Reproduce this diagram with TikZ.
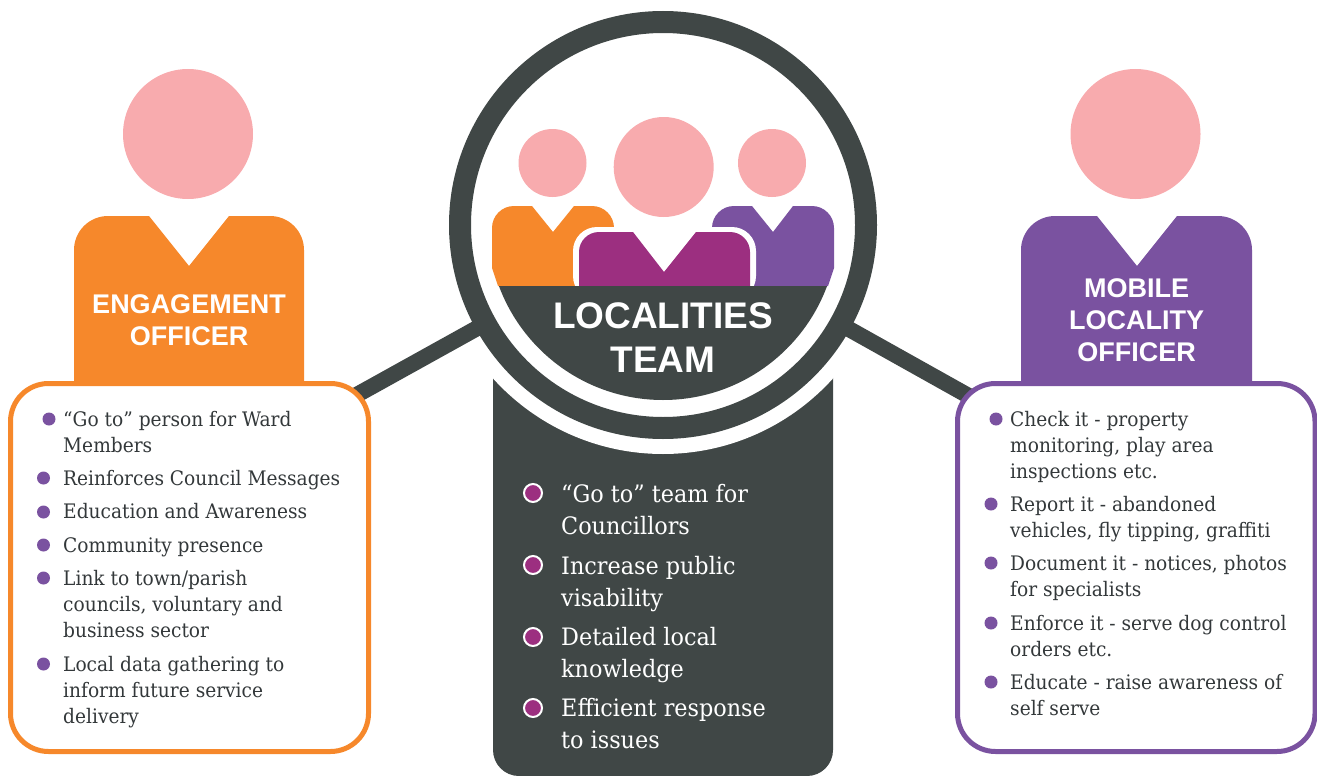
\documentclass[tikz,border=0pt]{standalone}
\usepackage{fontspec}
\setmainfont{Liberation Sans}
\newfontfamily\slab[FakeStretch=0.93]{DejaVu Serif}
\definecolor{cOrange}{HTML}{F6882B}
\definecolor{cPurple}{HTML}{7A52A0}
\definecolor{cMagenta}{HTML}{9C2F80}
\definecolor{cPink}{HTML}{F8ABAE}
\definecolor{cDark}{HTML}{404746}
\definecolor{cText}{HTML}{33383A}
\tikzset{
  head/.style={circle,fill=cPink,inner sep=0pt},
  handle/.style={draw=cDark,line width=16pt},
  title/.style={font=\bfseries\fontsize{27}{32}\selectfont,text=white,align=center,inner sep=0pt,anchor=base},
  bigtitle/.style={font=\bfseries\fontsize{37}{44}\selectfont,text=white,align=center,inner sep=0pt,anchor=base},
  item/.style={font=\slab\fontsize{20}{26}\selectfont,text=cText,align=left,inner sep=0pt,anchor=base west,yshift=0.6pt},
  citem/.style={font=\slab\fontsize{24}{32}\selectfont,text=white,align=left,inner sep=0pt,anchor=base west,yshift=0.6pt},
  dotp/.style={circle,fill=cPurple,inner sep=0pt,minimum size=13pt},
  dotm/.style={circle,fill=cMagenta,draw=white,line width=2pt,inner sep=0pt,minimum size=18pt},
  panel/.style={fill=white,line width=5pt,rounded corners=38pt},
}
\begin{document}
\begin{tikzpicture}[x=1pt,y=-1pt]
\useasboundingbox (0,0) rectangle (1317,776);
% lower dark panel
\fill[cDark,rounded corners=26pt] (493,300) -- (493,776) -- (833,776) -- (833,300) -- cycle;
\node[circle,fill=white,inner sep=0pt,minimum size=458pt] (halo) at (663,225) {};
% connectors
\coordinate (hl) at (300,426.4);
\coordinate (hr) at (1000,413.5);
\coordinate (rc) at (663,225);
\draw[handle] (hl) -- (rc);
\draw[handle] (hr) -- (rc);
% ring
\node[circle,draw=cDark,fill=white,line width=22pt,inner sep=0pt,minimum size=406pt] (ring) at (663,225) {};
% small people
\fill[cOrange] (498,286) -- (492,268) [rounded corners=22pt] -- (492,206) [sharp corners] -- (532,206) -- (553,232) -- (574,206) [rounded corners=22pt] -- (614,206) [sharp corners] -- (614,286) -- cycle;
\fill[cPurple] (828,286) -- (834,268) [rounded corners=22pt] -- (834,206) [sharp corners] -- (793,206) -- (773,232) -- (752,206) [rounded corners=22pt] -- (712,206) [sharp corners] -- (712,286) -- cycle;
\fill[white,rounded corners=24pt] (573,300) -- (573,227) -- (756,227) -- (756,300) -- cycle;
\fill[cMagenta] (579,286) [rounded corners=20pt] -- (579,232) [sharp corners] -- (633,232) -- (664,272) -- (696,232) [rounded corners=20pt] -- (750,232) [sharp corners] -- (750,286) -- cycle;
\node[head,minimum size=68pt] (h1) at (552.5,163) {};
\node[head,minimum size=100pt] (h2) at (663.7,167) {};
\node[head,minimum size=68pt] (h3) at (772,163) {};
% dark segment
\begin{scope}
\clip (663,225) circle (175pt);
\fill[cDark] (480,286) rectangle (850,410);
\end{scope}
\node[bigtitle] (tl1) at (663,328) {LOCALITIES};
\node[bigtitle] (tl2) at (663,372) {TEAM};
% left person
\node[head,minimum size=130pt] (hL) at (188,134) {};
\fill[cOrange] (74,390) [rounded corners=34pt] -- (74,216) [sharp corners] -- (149,216) -- (189,266) -- (229,216) [rounded corners=34pt] -- (304,216) [sharp corners] -- (304,390) -- cycle;
\node[title] (tL1) at (189,313) {ENGAGEMENT};
\node[title] (tL2) at (189,345) {OFFICER};
% right person
\node[head,minimum size=130pt] (hR) at (1135.5,134) {};
\fill[cPurple] (1021,390) [rounded corners=34pt] -- (1021,216) [sharp corners] -- (1097,216) -- (1137,266) -- (1177,216) [rounded corners=34pt] -- (1252,216) [sharp corners] -- (1252,390) -- cycle;
\node[title] (tR1) at (1136.5,297) {MOBILE};
\node[title] (tR2) at (1136.5,329) {LOCALITY};
\node[title] (tR3) at (1136.5,361) {OFFICER};
% panels
\draw[panel,draw=cOrange] (10.5,383.5) rectangle (368.5,751.5);
\draw[panel,draw=cPurple] (957.5,383.5) rectangle (1315,751.5);
% left list (node positions are the baseline of the last line)
\node[dotp] (a1) at (49,419) {};
\node[item] (ta1) at (63,453) {“Go to” person for Ward\\Members};
\node[dotp] (a2) at (43.5,478) {};
\node[item] (ta2) at (63,486) {Reinforces Council Messages};
\node[dotp] (a3) at (43.5,512) {};
\node[item] (ta3) at (63,519) {Education and Awareness};
\node[dotp] (a4) at (43.5,545) {};
\node[item] (ta4) at (63,553) {Community presence};
\node[dotp] (a5) at (43.5,578) {};
\node[item] (ta5) at (63,638) {Link to town/parish\\councils, voluntary and\\business sector};
\node[dotp] (a6) at (43.5,664) {};
\node[item] (ta6) at (63,724) {Local data gathering to\\inform future service\\delivery};
% centre list
\node[dotm] (b1) at (533,493) {};
\node[citem] (tb1) at (561,535) {“Go to” team for\\Councillors};
\node[dotm] (b2) at (533,565) {};
\node[citem] (tb2) at (561,607) {Increase public\\visability};
\node[dotm] (b3) at (533,637) {};
\node[citem] (tb3) at (561,678) {Detailed local\\knowledge};
\node[dotm] (b4) at (533,708) {};
\node[citem] (tb4) at (561,749) {Efficient response\\to issues};
% right list
\node[dotp] (c1) at (996,419) {};
\node[item] (tc1) at (1010,479) {Check it - property\\monitoring, play area\\inspections etc.};
\node[dotp] (c2) at (991,504) {};
\node[item] (tc2) at (1010,538) {Report it - abandoned\\vehicles, fly tipping, graffiti};
\node[dotp] (c3) at (991,563) {};
\node[item] (tc3) at (1010,597) {Document it - notices, photos\\for specialists};
\node[dotp] (c4) at (991,623) {};
\node[item] (tc4) at (1010,657) {Enforce it - serve dog control\\orders etc.};
\node[dotp] (c5) at (991,682) {};
\node[item] (tc5) at (1010,716) {Educate - raise awareness of\\self serve};
\end{tikzpicture}
\end{document}
